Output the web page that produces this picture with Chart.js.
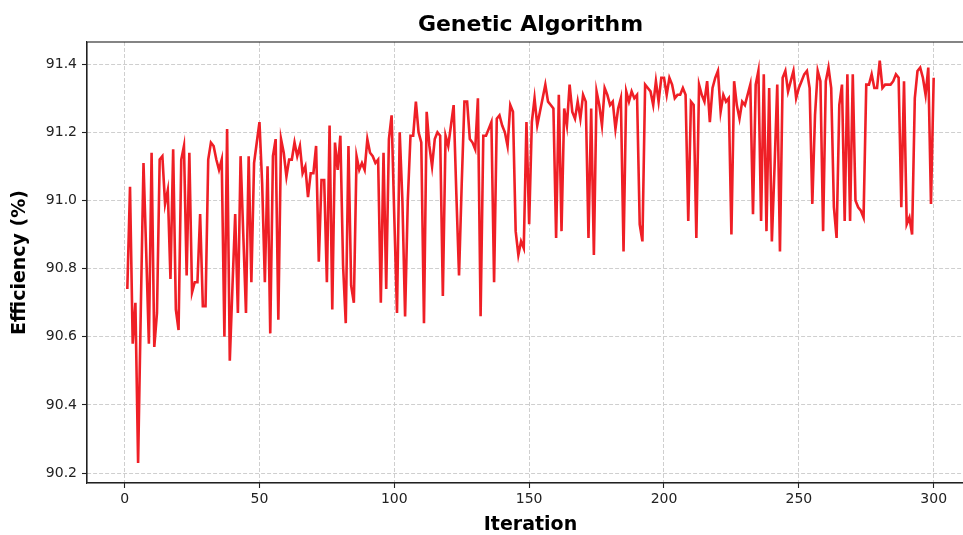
<!DOCTYPE html>
<html>
<head>
<meta charset="utf-8">
<script src="https://cdn.jsdelivr.net/npm/chart.js@4.4.1/dist/chart.umd.min.js"></script>
<style>
  body { margin: 0; overflow: hidden; background: #fff; }
  #wrap { width: 975px; height: 535px; }
</style>
</head>
<body>
<div id="wrap"><canvas id="chart" width="975" height="535"></canvas></div>
<script>
var efficiency = [
  90.74, 91.04, 90.58, 90.70, 90.23, 90.68, 91.11, 90.85, 90.58, 91.14,
  90.57, 90.67, 91.12, 91.13, 90.99, 91.03, 90.77, 91.15, 90.68, 90.62,
  91.12, 91.16, 90.78, 91.14, 90.73, 90.76, 90.76, 90.96, 90.69, 90.69,
  91.12, 91.17, 91.16, 91.12, 91.09, 91.12, 90.60, 91.21, 90.53, 90.75,
  90.96, 90.67, 91.13, 90.90, 90.67, 91.13, 90.76, 91.11, 91.17, 91.23,
  91.05, 90.76, 91.10, 90.61, 91.13, 91.18, 90.65, 91.18, 91.14, 91.07,
  91.12, 91.12, 91.17, 91.13, 91.16, 91.08, 91.10, 91.01, 91.08, 91.08,
  91.16, 90.82, 91.06, 91.06, 90.76, 91.22, 90.68, 91.17, 91.09, 91.19,
  90.81, 90.64, 91.16, 90.75, 90.70, 91.13, 91.09, 91.11, 91.09, 91.18,
  91.14, 91.13, 91.11, 91.12, 90.70, 91.14, 90.74, 91.18, 91.25, 90.95,
  90.67, 91.20, 91.00, 90.66, 91.00, 91.19, 91.19, 91.29, 91.20, 91.17,
  90.64, 91.26, 91.16, 91.10, 91.18, 91.20, 91.19, 90.72, 91.19, 91.16,
  91.22, 91.28, 91.02, 90.78, 91.05, 91.29, 91.29, 91.18, 91.17, 91.15,
  91.30, 90.66, 91.19, 91.19, 91.21, 91.23, 90.76, 91.24, 91.25, 91.22,
  91.20, 91.16, 91.28, 91.26, 90.91, 90.84, 90.88, 90.86, 91.23, 90.93,
  91.23, 91.30, 91.22, 91.26, 91.30, 91.34, 91.29, 91.28, 91.27, 90.89,
  91.31, 90.91, 91.27, 91.22, 91.34, 91.26, 91.24, 91.29, 91.24, 91.31,
  91.29, 90.89, 91.27, 90.84, 91.32, 91.28, 91.22, 91.33, 91.31, 91.28,
  91.29, 91.21, 91.27, 91.30, 90.85, 91.32, 91.29, 91.32, 91.30, 91.31,
  90.93, 90.88, 91.34, 91.33, 91.32, 91.28, 91.35, 91.29, 91.36, 91.36,
  91.31, 91.36, 91.34, 91.30, 91.31, 91.31, 91.33, 91.31, 90.94, 91.29,
  91.28, 90.89, 91.34, 91.31, 91.29, 91.35, 91.23, 91.33, 91.36, 91.38,
  91.26, 91.31, 91.29, 91.30, 90.90, 91.35, 91.28, 91.24, 91.29, 91.28,
  91.31, 91.34, 90.96, 91.34, 91.38, 90.94, 91.37, 90.91, 91.33, 90.88,
  91.10, 91.34, 90.85, 91.36, 91.38, 91.32, 91.35, 91.38, 91.30, 91.33,
  91.35, 91.37, 91.38, 91.33, 90.99, 91.25, 91.38, 91.35, 90.91, 91.35,
  91.39, 91.33, 90.98, 90.89, 91.28, 91.34, 90.94, 91.37, 90.94, 91.37,
  91.00, 90.98, 90.97, 90.95, 91.34, 91.34, 91.37, 91.33, 91.33, 91.41,
  91.33, 91.34, 91.34, 91.34, 91.35, 91.37, 91.36, 90.98, 91.35, 90.93,
  90.95, 90.90, 91.30, 91.38, 91.39, 91.36, 91.31, 91.39, 90.99, 91.36
];
var iterations = [];
for (var i = 1; i <= efficiency.length; i++) iterations.push(i);

var xTicks = [0, 50, 100, 150, 200, 250, 300];
var yTicks = [90.2, 90.4, 90.6, 90.8, 91.0, 91.2, 91.4];

var points = iterations.map(function(it, k) { return { x: it, y: efficiency[k] }; });

// top and right spines like matplotlib
var frame = {
  id: 'frame',
  afterDraw: function(chart) {
    var a = chart.chartArea, ctx = chart.ctx;
    ctx.save();
    ctx.strokeStyle = '#222';
    ctx.lineWidth = 1.1;
    ctx.strokeRect(a.left, a.top, a.right - a.left, a.bottom - a.top);
    ctx.restore();
  }
};

var font = "'DejaVu Sans', sans-serif";

new Chart(document.getElementById('chart'), {
  type: 'line',
  data: {
    datasets: [{
      label: 'Efficiency',
      data: points,
      borderColor: '#ef1f26',
      borderWidth: 2.6,
      pointRadius: 0,
      fill: false,
      tension: 0
    }]
  },
  options: {
    responsive: false,
    animation: false,
    layout: { padding: { right: 1 } },
    plugins: {
      legend: { display: false },
      tooltip: { enabled: false },
      title: {
        display: true,
        text: 'Genetic Algorithm',
        fullSize: false,
        color: '#000',
        font: { family: font, size: 22, weight: 'bold', lineHeight: 1 },
        padding: { top: 14, bottom: 6 }
      }
    },
    scales: {
      x: {
        type: 'linear',
        min: -13.95,
        max: 314.95,
        afterBuildTicks: function(s) { s.ticks = xTicks.map(function(v) { return { value: v }; }); },
        afterFit: function(s) { s.height = 52; },
        ticks: { color: '#222', font: { family: font, size: 14 }, padding: 3, maxRotation: 0 },
        grid: { color: '#cfcfcf', lineWidth: 1, tickColor: '#222', tickLength: 5, tickWidth: 1.1 },
        border: { color: '#222', width: 1.1, dash: [4, 2] },
        title: {
          display: true, text: 'Iteration', color: '#000',
          font: { family: font, size: 19, weight: 'bold', lineHeight: 1 },
          padding: { top: 0, bottom: 0 }
        }
      },
      y: {
        min: 90.171,
        max: 91.465,
        afterBuildTicks: function(s) { s.ticks = yTicks.map(function(v) { return { value: v }; }); },
        afterFit: function(s) { s.width = 87; },
        ticks: {
          color: '#222', font: { family: font, size: 14 }, padding: 5,
          callback: function(v) { return v.toFixed(1); }
        },
        grid: { color: '#cfcfcf', lineWidth: 1, tickColor: '#222', tickLength: 5, tickWidth: 1.1 },
        border: { color: '#222', width: 1.1, dash: [4, 2] },
        title: {
          display: true, text: 'Efficiency (%)', color: '#000',
          font: { family: font, size: 19, weight: 'bold', lineHeight: 1 },
          padding: { top: 11, bottom: 0 }
        }
      }
    }
  },
  plugins: [frame]
});
</script>
</body>
</html>
